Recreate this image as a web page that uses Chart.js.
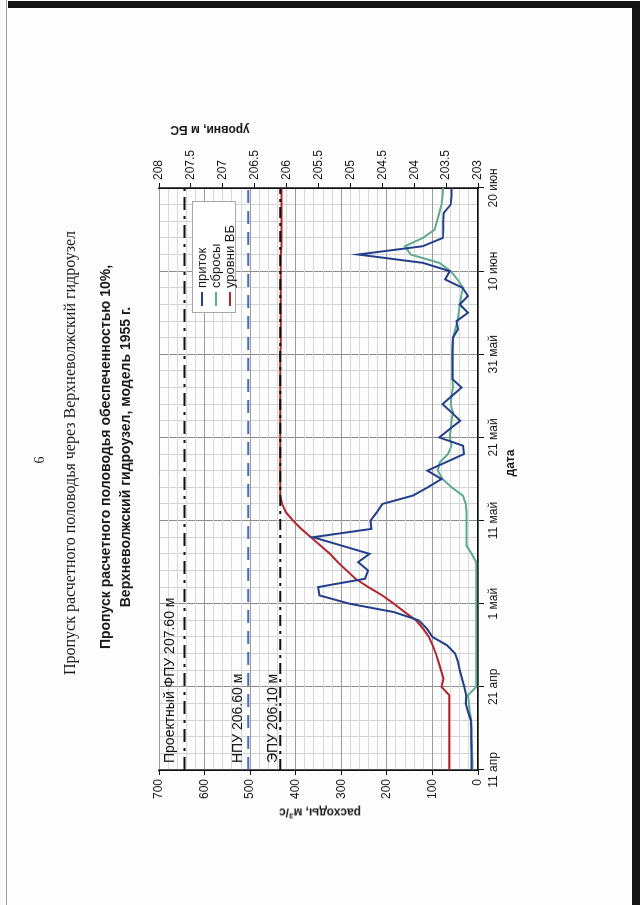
<!DOCTYPE html>
<html lang="ru">
<head>
<meta charset="utf-8">
<script src="https://cdn.jsdelivr.net/npm/chart.js@4.4.1/dist/chart.umd.min.js"></script>
<style>
  html, body { margin: 0; padding: 0; }
  body { width: 640px; height: 905px; overflow: hidden; position: relative; background: #fdfdfd; font-family: "Liberation Sans", Arial, sans-serif; color: #1a1a1a; }
  /* страница повернута на 90° против часовой стрелки */
  #page { position: absolute; left: 0; top: 0; width: 905px; height: 640px; transform-origin: 0 0; transform: translate(0px, 905px) rotate(-90deg); }
  #chart { position: absolute; left: 0; top: 0; }
  .t { position: absolute; white-space: nowrap; transform: translate(-50%, -50%); }
  .vt { position: absolute; white-space: nowrap; transform: translate(-50%, -50%) rotate(-90deg); }
  .serif { font-family: "Liberation Serif", "Times New Roman", serif; }
  .bold { font-weight: bold; }
  #legend { position: absolute; left: 592px; top: 192px; width: 112px; height: 44px; background: #fff; border: 1px solid #a8a8a8; font-size: 13px; line-height: 14px; padding-top: 2px; box-sizing: border-box; }
  #legend div { height: 14px; display: flex; align-items: center; }
  #legend span.s { display: inline-block; width: 14px; height: 2px; margin: 0 4px 0 6px; }
  /* края скана */
  .scan { position: absolute; background: #151515; }
</style>
</head>
<body>
<div class="scan" style="left:8px; top:1px; width:632px; height:7px;"></div>
<div class="scan" style="left:632px; top:6px; width:8px; height:899px;"></div>
<div class="scan" style="left:6px; top:0px; width:1px; height:905px; background:#9a9a9a;"></div>

<div id="page">
  <canvas id="chart" width="905" height="640"></canvas>
  <div class="t serif" style="left:445px; top:40px; font-size:14px;">6</div>
  <div class="t serif" style="left:452px; top:70px; font-size:16px;">Пропуск расчетного половодья через Верхневолжский гидроузел</div>
  <div class="t bold" style="left:448px; top:105px; font-size:14px;">Пропуск расчетного половодья обеспеченностью 10%,</div>
  <div class="t bold" style="left:448px; top:125px; font-size:14px;">Верхневолжский гидроузел, модель 1955 г.</div>
  <div class="vt bold" style="left:92px; top:320px; font-size:12px;">расходы, м<sup style="font-size:8px;">3</sup>/с</div>
  <div class="vt bold" style="left:775px; top:210px; font-size:12px;">уровни, м БС</div>
  <div class="t bold" style="left:442px; top:510px; font-size:12px;">дата</div>
  <div id="legend">
    <div><span class="s" style="background:#233f8c"></span>приток</div>
    <div><span class="s" style="background:#5daa8e"></span>сбросы</div>
    <div><span class="s" style="background:#b2252d"></span>уровни ВБ</div>
  </div>
</div>

<script>
// подписи дат (каждые 10 суток от 11 апреля)
const dayTicks = ["11 апр", "21 апр", "1 май", "11 май", "21 май", "31 май", "10 июн", "20 июн"];

// приток, м3/с, по суткам с 11 апр по 20 июн
const inflow = [
  14, 14, 14, 15, 15, 15, 16, 22, 27, 26,
  30, 35, 40, 44, 50, 68, 100, 112, 130, 185,
  282, 348, 351, 248, 241, 263, 238, 300, 362, 234,
  236, 222, 210, 143, 110, 80, 111, 71, 31, 33,
  85, 62, 39, 58, 78, 57, 36, 56, 56, 56,
  56, 56, 55, 44, 47, 22, 40, 22, 34, 72,
  62, 121, 263, 121, 77, 76, 76, 75, 60, 58,
  58
];

// сбросы, м3/с
const outflow = [
  12, 12, 13, 13, 14, 14, 15, 18, 20, 22,
  4, 4, 4, 4, 4, 4, 4, 4, 4, 4,
  4, 4, 4, 4, 4, 4, 14, 25, 25, 25,
  25, 25, 27, 33, 58, 78, 88, 84, 66, 58,
  62, 60, 58, 55, 60, 58, 55, 56, 56, 56,
  56, 55, 55, 50, 45, 42, 40, 37, 33, 45,
  60, 85, 148, 160, 121, 95, 90, 85, 80, 78,
  77
];

// уровни ВБ, м БС
const levelVB = [
  203.45, 203.45, 203.45, 203.45, 203.45, 203.45, 203.45, 203.45, 203.45, 203.45,
  203.57, 203.54, 203.58, 203.62, 203.66, 203.71, 203.77, 203.86, 203.97, 204.15,
  204.32, 204.5, 204.72, 204.92, 205.06, 205.2, 205.32, 205.47, 205.62, 205.77,
  205.9, 206.01, 206.07, 206.1, 206.1, 206.1, 206.1, 206.1, 206.1, 206.1,
  206.1, 206.1, 206.1, 206.1, 206.1, 206.1, 206.1, 206.1, 206.1, 206.1,
  206.1, 206.09, 206.09, 206.09, 206.09, 206.09, 206.09, 206.09, 206.09, 206.09,
  206.09, 206.09, 206.09, 206.08, 206.08, 206.08, 206.08, 206.08, 206.08, 206.08,
  206.08
];

// характерные уровни
const refLevels = [207.6, 206.6, 206.1];
const refNames = ["Проектный ФПУ 207.60 м", "НПУ 206.60 м", "ЭПУ 206.10 м"];

const FONT = "'Liberation Sans', Arial, sans-serif";
const toXY = (arr) => arr.map((v, i) => ({ x: i, y: v }));
const refLine = (lv) => [{ x: 0, y: lv }, { x: 70, y: lv }];

// подписи у горизонтальных линий
const refLabelPlugin = {
  id: "refLabels",
  afterDatasetsDraw(chart) {
    const { ctx, chartArea, scales } = chart;
    const shift = [10.5, 6, 3];
    ctx.save();
    ctx.font = "14px " + FONT;
    ctx.fillStyle = "#141414";
    ctx.textBaseline = "alphabetic";
    refLevels.forEach((lv, i) => {
      const y = scales.y2.getPixelForValue(lv);
      ctx.fillText(refNames[i], chartArea.left + 7, y - shift[i]);
    });
    ctx.restore();
  },
};

const fixPad = (s) => {
  s.paddingTop = 0;
  s.paddingBottom = 0;
  s.paddingLeft = 0;
  s.paddingRight = 0;
};

new Chart(document.getElementById("chart"), {
  type: "line",
  data: {
    datasets: [
      { label: "ЭПУ", data: refLine(refLevels[2]), yAxisID: "y2", borderColor: "#111", borderWidth: 2, borderDash: [11, 5, 3, 5], order: 0 },
      { label: "приток", data: toXY(inflow), yAxisID: "y", borderColor: "#233f8c", borderWidth: 2, order: 1 },
      { label: "сбросы", data: toXY(outflow), yAxisID: "y", borderColor: "#5daa8e", borderWidth: 2, order: 2 },
      { label: "уровни ВБ", data: toXY(levelVB), yAxisID: "y2", borderColor: "#b2252d", borderWidth: 2, order: 3 },
      { label: "НПУ", data: refLine(refLevels[1]), yAxisID: "y2", borderColor: "#3c6ec4", borderWidth: 2, borderDash: [13, 8], order: 4 },
      { label: "ФПУ", data: refLine(refLevels[0]), yAxisID: "y2", borderColor: "#111", borderWidth: 2, borderDash: [13, 6, 3, 6], order: 5 },
    ],
  },
  options: {
    responsive: false,
    animation: false,
    events: [],
    elements: { point: { radius: 0 }, line: { tension: 0 } },
    layout: { padding: { left: 95, right: 148, top: 159, bottom: 132 } },
    plugins: { legend: { display: false }, tooltip: { enabled: false } },
    scales: {
      x: {
        type: "linear",
        min: 0,
        max: 70,
        afterFit: (s) => { s.height = 30; fixPad(s); },
        grid: {
          color: (c) => (c.tick && c.tick.value % 10 === 0 ? "#8c8c8c" : "#d4d4d4"),
          tickColor: (c) => (c.tick && c.tick.value % 10 === 0 ? "#111" : "rgba(0,0,0,0)"),
          tickLength: 6,
        },
        border: { color: "#111", width: 1.5 },
        ticks: {
          stepSize: 2,
          autoSkip: false,
          maxRotation: 0,
          padding: 2,
          color: "#1a1a1a",
          font: { family: FONT, size: 12 },
          callback: (v) => (v % 10 === 0 ? dayTicks[v / 10] : ""),
        },
      },
      y: {
        position: "left",
        min: 0,
        max: 700,
        afterFit: (s) => { s.width = 40; fixPad(s); },
        grid: {
          color: (c) => (c.tick && c.tick.value % 100 === 0 ? "#9c9c9c" : "#d8d8d8"),
          tickColor: (c) => (c.tick && c.tick.value % 100 === 0 ? "#111" : "rgba(0,0,0,0)"),
          tickLength: 5,
        },
        border: { color: "#111", width: 1.5 },
        ticks: {
          stepSize: 20,
          autoSkip: false,
          padding: 4,
          color: "#1a1a1a",
          font: { family: FONT, size: 12 },
          callback: (v) => (v % 100 === 0 ? v : ""),
        },
      },
      y2: {
        position: "right",
        min: 203,
        max: 208,
        afterFit: (s) => { s.width = 40; fixPad(s); },
        grid: { drawOnChartArea: false, tickColor: "#111", tickLength: 5 },
        border: { color: "#111", width: 1.5 },
        ticks: {
          stepSize: 0.5,
          autoSkip: false,
          padding: 3,
          color: "#1a1a1a",
          font: { family: FONT, size: 12 },
          callback: (v) => String(Math.round(v * 10) / 10),
        },
      },
    },
  },
  plugins: [refLabelPlugin],
});
</script>
</body>
</html>
